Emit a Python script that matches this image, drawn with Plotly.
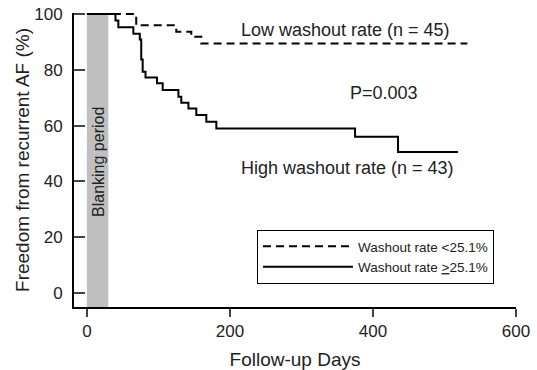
import plotly.graph_objects as go

# ---- data ----
low_days = [0, 69, 125, 146, 160, 532]
low_surv = [100, 96.0, 93.7, 91.9, 89.5, 89.5]

high_days = [0, 40, 44, 65, 74, 76, 78, 82, 98, 106, 128, 132, 142, 153, 167, 181, 375, 435, 519]
high_surv = [100, 97.7, 95.3, 93.0, 90.9, 83.7, 79.3, 77.3, 75.2, 72.8, 70.4, 68.2, 66.2, 63.8, 61.4, 59.0, 56.0, 50.6, 50.6]

blanking = [0, 30]
x_ticks = [0, 200, 400, 600]
y_ticks = [0, 20, 40, 60, 80, 100]

FONT = "Liberation Sans, Arial, sans-serif"
TXT = "#222222"

fig = go.Figure()
fig.add_trace(go.Scatter(
    x=low_days, y=low_surv, mode="lines", line_shape="hv",
    line=dict(color="black", width=2, dash="8px,5px"),
    name="Washout rate <25.1%"))
fig.add_trace(go.Scatter(
    x=high_days, y=high_surv, mode="lines", line_shape="hv",
    line=dict(color="black", width=2),
    name="Washout rate <u>&gt;</u>25.1%"))

fig.add_shape(type="rect", x0=blanking[0], x1=blanking[1], y0=-5, y1=100,
              fillcolor="#c0c0c0", line_width=0, layer="below")

fig.add_annotation(x=17, y=47, text="Blanking period",
                   textangle=-90, showarrow=False, font=dict(size=16, color=TXT, family=FONT))
fig.add_annotation(x=362, y=94.3, text="Low washout rate (n = 45)", showarrow=False,
                   font=dict(size=18, color=TXT, family=FONT))
fig.add_annotation(x=416, y=71.7, text="P=0.003", showarrow=False,
                   font=dict(size=18, color=TXT, family=FONT))
fig.add_annotation(x=364, y=44.8, text="High washout rate (n = 43)", showarrow=False,
                   font=dict(size=18, color=TXT, family=FONT))

fig.update_layout(
    width=537, height=370,
    margin=dict(l=74, r=21, t=13, b=63),
    paper_bgcolor="white", plot_bgcolor="white",
    font=dict(family=FONT, color=TXT, size=17),
    showlegend=True,
    legend=dict(x=0.414, y=0.262, xanchor="left", yanchor="top",
                bordercolor="black", borderwidth=1, bgcolor="white",
                font=dict(size=13.5, color=TXT, family=FONT),
                itemwidth=90, tracegroupgap=0),
    xaxis=dict(range=[-18, 600], tickvals=x_ticks, ticks="outside", ticklen=8,
               tickwidth=2, showline=True, linewidth=2, linecolor="black",
               showgrid=False, zeroline=False, tickfont=dict(size=17),
               automargin=False,
               title=dict(text="Follow-up Days", font=dict(size=19), standoff=12)),
    yaxis=dict(range=[-5, 100.4], tickvals=y_ticks, ticks="inside", ticklen=11,
               tickwidth=2, showline=True, linewidth=2, linecolor="black",
               showgrid=False, zeroline=False, tickfont=dict(size=17),
               ticklabelstandoff=6, automargin=False,
               title=dict(text="Freedom from recurrent AF (%)", font=dict(size=19), standoff=0)),
)

# remove the browser's default 8px page margin so the 537x370 figure fills the window
fig.write_html("out.html", config={"displayModeBar": False},
               post_script="document.body.style.margin='0';document.body.style.overflow='hidden';")
